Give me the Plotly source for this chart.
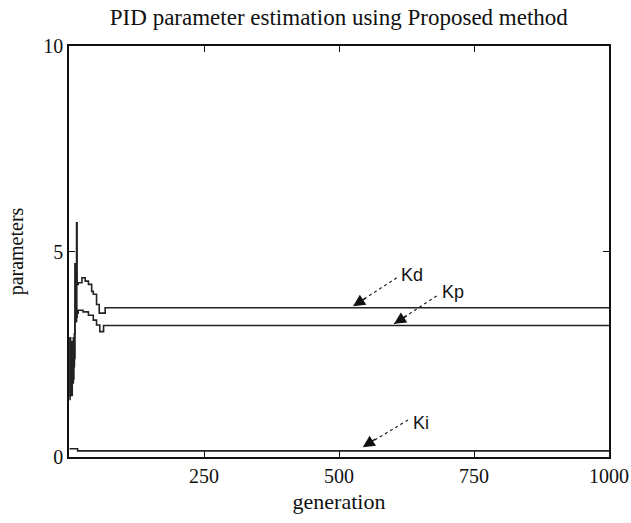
import plotly.graph_objects as go

# Generation index and the parameter trajectories (staircase, held between updates)
gen_kd = [1, 2, 3, 4, 5, 6, 7, 8, 9, 10, 11, 12, 13, 14, 15, 17, 24, 30, 36, 42, 45, 51, 56, 67, 1000]
kd = [1.4, 2.9, 1.6, 2.8, 1.5, 2.7, 1.8, 2.9, 2.2, 3.0, 3.4, 4.6, 3.3, 5.7, 4.2, 4.24, 4.36, 4.28, 4.2, 4.03, 3.96, 3.71, 3.5, 3.63, 3.63]

gen_kp = [1, 2, 3, 4, 5, 6, 7, 8, 9, 10, 11, 12, 13, 14, 15, 17, 26, 36, 45, 51, 57, 64, 1000]
kp = [2.9, 1.5, 2.6, 1.7, 2.8, 2.0, 2.5, 1.9, 2.7, 2.4, 4.7, 3.3, 4.5, 3.4, 3.5, 3.57, 3.53, 3.45, 3.33, 3.21, 3.05, 3.2, 3.2]

gen_ki = [1, 16, 1000]
ki = [0.2, 0.15, 0.15]

x_ticks = [250, 500, 750, 1000]
y_ticks = [0, 5, 10]

# Labels: name, arrow head (x, y), arrow tail (x, y), text position (x, y)
labels = [
    ("Kd", (526, 3.67), (607, 4.36), (635, 4.43)),
    ("Kp", (602, 3.24), (681, 3.92), (711, 4.01)),
    ("Ki", (544, 0.24), (628, 0.90), (652, 0.83)),
]

line_style = dict(color="#222222", width=1.6, shape="hv")

fig = go.Figure()
fig.add_trace(go.Scatter(x=gen_kd, y=kd, mode="lines", line=line_style, name="Kd"))
fig.add_trace(go.Scatter(x=gen_kp, y=kp, mode="lines", line=line_style, name="Kp"))
fig.add_trace(go.Scatter(x=gen_ki, y=ki, mode="lines", line=line_style, name="Ki"))

serif = "Liberation Serif, Times New Roman, serif"
sans = "Liberation Sans, Arial, sans-serif"

annotations = []
shapes = []
for name, head, tail, txt in labels:
    # dotted shaft from the tail to the arrow head
    shapes.append(dict(type="line", xref="x", yref="y",
                       x0=tail[0], y0=tail[1], x1=head[0], y1=head[1],
                       line=dict(color="#222222", width=1.2, dash="dot")))
    # filled arrow head
    annotations.append(dict(x=head[0], y=head[1], xref="x", yref="y",
                            ax=14, ay=-9, axref="pixel", ayref="pixel",
                            text="", showarrow=True, arrowhead=2,
                            arrowsize=1.7, arrowwidth=1.4, arrowcolor="#111111"))
    annotations.append(dict(x=txt[0], y=txt[1], xref="x", yref="y",
                            text=name, showarrow=False,
                            font=dict(family=sans, size=18, color="#111111")))

fig.update_layout(
    width=631, height=523,
    margin=dict(l=69, r=22, t=46, b=66),
    paper_bgcolor="white", plot_bgcolor="white",
    showlegend=False,
    title=dict(text="PID parameter estimation using Proposed method",
               x=0.537, xanchor="center", y=0.967, yanchor="middle",
               font=dict(family=serif, size=23, color="#111111")),
    font=dict(family=serif, size=20, color="#111111"),
    annotations=annotations,
    shapes=shapes,
)

fig.update_xaxes(range=[0, 1000], tickvals=x_ticks, ticks="inside", ticklen=6,
                 tickcolor="#111111", showline=True, linecolor="#111111", linewidth=1.5,
                 mirror="ticks", showgrid=False, zeroline=False, automargin=False,
                 title=dict(text="generation", standoff=8, font=dict(family=serif, size=22)),
                 tickfont=dict(family=serif, size=20))
fig.update_yaxes(range=[0, 10], tickvals=y_ticks, ticks="inside", ticklen=6,
                 tickcolor="#111111", showline=True, linecolor="#111111", linewidth=1.5,
                 mirror="ticks", showgrid=False, zeroline=False, automargin=False,
                 title=dict(text="parameters", standoff=14, font=dict(family=serif, size=20)),
                 tickfont=dict(family=serif, size=20))

fig.write_html("out.html")
